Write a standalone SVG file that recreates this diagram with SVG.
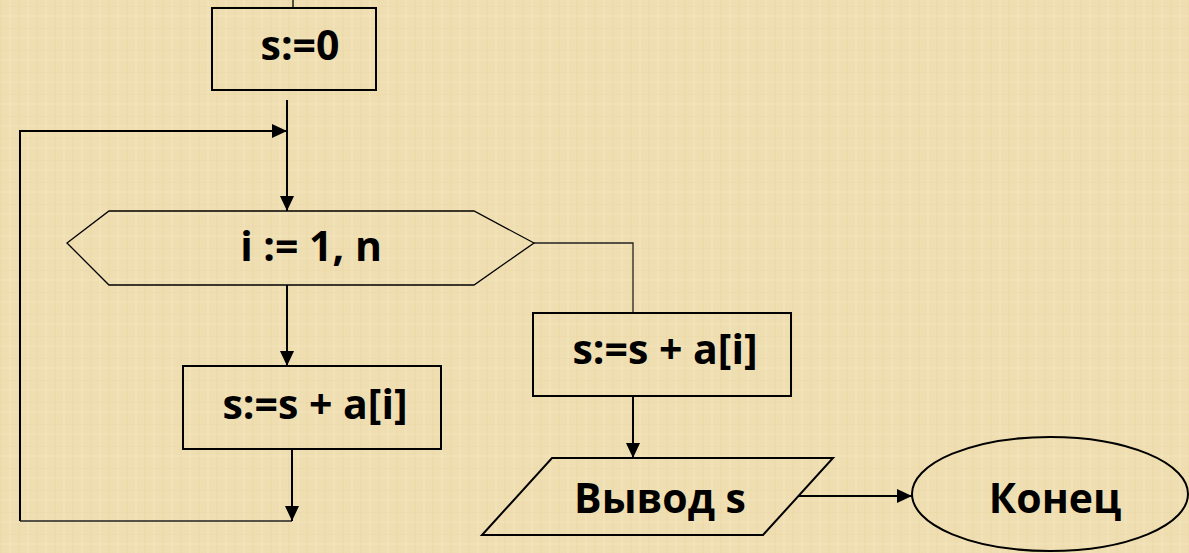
<svg xmlns="http://www.w3.org/2000/svg" width="1189" height="553" viewBox="0 0 1189 553">
  <defs>
    <marker id="arrow" markerUnits="userSpaceOnUse" markerWidth="16" markerHeight="14" refX="15" refY="7" orient="auto">
      <path d="M0,0 L15,7 L0,14 z" fill="#000"/>
    </marker>
    <!-- faint woven parchment texture -->
    <pattern id="weave" width="18" height="22" patternUnits="userSpaceOnUse">
      <rect width="18" height="22" fill="#EFDEB1"/>
      <rect x="0" y="0" width="2" height="22" fill="#E8D4A4" opacity="0.35"/>
      <rect x="9" y="0" width="2" height="22" fill="#F5E7C0" opacity="0.45"/>
      <rect x="0" y="6" width="18" height="1" fill="#E7D2A1" opacity="0.35"/>
      <rect x="0" y="15" width="18" height="2" fill="#F4E5BD" opacity="0.4"/>
    </pattern>
    <style>
      .box { fill: none; stroke: #000; stroke-width: 2; }
      .thin { fill: none; stroke: #000; stroke-width: 1.3; }
      .flow { fill: none; stroke: #000; stroke-width: 2; }
      .flow-thin { fill: none; stroke: #222; stroke-width: 1.3; }
      .arr { marker-end: url(#arrow); }
      .lbl { font-family: "Open Sans", "Liberation Sans", sans-serif; font-weight: bold; font-size: 41px; fill: #000; text-anchor: middle; }
    </style>
  </defs>

  <rect width="1189" height="553" fill="url(#weave)"/>

  <g id="connectors">
    <line class="thin" x1="293" y1="0" x2="293" y2="8"/>
    <line class="flow arr" x1="287" y1="100" x2="287" y2="211"/>
    <polyline class="flow arr" points="20,521 20,131 287,131"/>
    <line class="flow-thin" x1="20" y1="521" x2="292" y2="521"/>
    <line class="flow arr" x1="287" y1="285" x2="287" y2="366"/>
    <line class="flow arr" x1="292" y1="449" x2="292" y2="521"/>
    <polyline class="flow-thin" points="534,243 633,243 633,313"/>
    <line class="flow arr" x1="633" y1="396" x2="633" y2="458"/>
    <line class="flow arr" x1="799" y1="496" x2="912" y2="496"/>
  </g>

  <g id="init">
    <rect class="box" x="212" y="8" width="164" height="82"/>
    <text class="lbl" x="300" y="60">s:=0</text>
  </g>

  <g id="loop">
    <polygon class="thin" points="67,243 109,211 474,211 534,243 474,285 109,285"/>
    <text class="lbl" x="311" y="261">i := 1, n</text>
  </g>

  <g id="sum-body">
    <rect class="box" x="183" y="366" width="258" height="83"/>
    <text class="lbl" x="315" y="419">s:=s + a[i]</text>
  </g>

  <g id="sum-exit">
    <rect class="box" x="533" y="313" width="258" height="83"/>
    <text class="lbl" x="665" y="364">s:=s + a[i]</text>
  </g>

  <g id="output">
    <polygon class="box" points="552,458 833,458 763,535 482,535"/>
    <text class="lbl" x="660" y="513">Вывод s</text>
  </g>

  <g id="end">
    <ellipse class="box" cx="1050" cy="494" rx="138" ry="57"/>
    <text class="lbl" x="1055" y="513">Конец</text>
  </g>
</svg>
